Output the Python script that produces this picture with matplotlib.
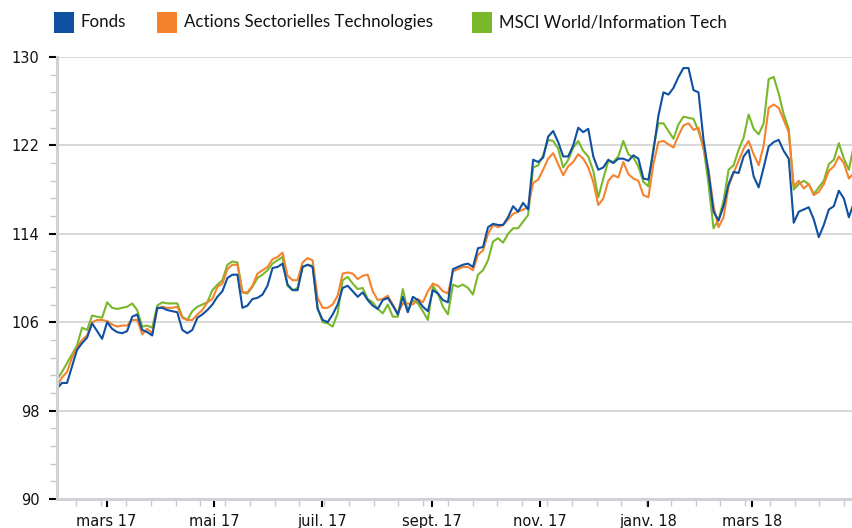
import matplotlib
matplotlib.use("Agg")
import matplotlib.pyplot as plt
import matplotlib.dates as mdates
from matplotlib.patches import Rectangle
from matplotlib.ticker import FixedLocator
import numpy as np
import pandas as pd

# --- data (index base 100) ---
fonds = [100.0, 100.5, 100.5, 102.0, 103.5, 104.1, 104.6, 105.9, 105.2, 104.5,
         106.0, 105.4, 105.1, 105.0, 105.2, 106.5, 106.7, 105.3, 105.1, 104.8,
         107.3, 107.3, 107.1, 107.0, 106.9, 105.3, 105.0, 105.3, 106.4, 106.7,
         107.1, 107.6, 108.3, 108.8, 110.0, 110.3, 110.3, 107.3, 107.5, 108.1,
         108.2, 108.5, 109.3, 110.9, 111.0, 111.3, 109.4, 108.9, 108.9, 111.0,
         111.2, 111.0, 107.2, 106.2, 106.0, 106.7, 107.6, 109.1, 109.3, 108.8,
         108.3, 108.7, 108.0, 107.5, 107.2, 108.0, 108.2, 107.5, 106.7, 108.3,
         106.9, 108.3, 108.0, 107.4, 107.0, 108.9, 108.6, 108.0, 107.8, 110.8,
         111.0, 111.2, 111.3, 111.0, 112.7, 112.8, 114.6, 114.9, 114.8, 114.8,
         115.5, 116.5, 116.0, 116.8, 116.2, 120.7, 120.5, 120.9, 122.8, 123.3,
         122.3, 121.0, 121.0, 122.0, 123.6, 123.2, 123.5, 121.0, 119.8, 120.0,
         120.7, 120.4, 120.8, 120.8, 120.6, 121.1, 120.8, 119.0, 118.9, 121.5,
         124.7, 126.8, 126.6, 127.2, 128.2, 129.0, 129.0, 127.0, 126.8, 122.5,
         119.5, 116.0, 115.2, 116.5, 118.5, 119.6, 119.5, 121.0, 121.6, 119.2,
         118.2, 120.0, 121.9, 122.3, 122.5, 121.5, 120.8, 115.0, 116.0, 116.2,
         116.4, 115.3, 113.7, 114.8, 116.2, 116.5, 117.9, 117.2, 115.5, 116.8]

actions = [100.2, 101.0, 101.5, 102.8, 103.7, 104.4, 104.8, 106.0, 106.2, 106.2,
           106.1, 105.8, 105.6, 105.7, 105.7, 106.2, 106.2, 104.9, 105.4, 105.0,
           107.2, 107.4, 107.3, 107.3, 107.4, 106.4, 106.2, 106.2, 106.7, 107.1,
           107.8, 108.1, 109.2, 109.5, 110.8, 111.2, 111.2, 108.7, 108.7, 109.3,
           110.4, 110.7, 111.0, 111.7, 111.9, 112.3, 110.2, 109.8, 109.8, 111.4,
           111.8, 111.6, 108.2, 107.3, 107.3, 107.6, 108.4, 110.4, 110.5, 110.4,
           109.9, 110.2, 110.3, 108.8, 108.0, 108.1, 108.4, 107.6, 106.8, 107.7,
           107.7, 107.6, 108.1, 107.8, 108.8, 109.5, 109.3, 108.8, 108.6, 110.6,
           110.8, 111.0, 111.0, 110.7, 112.1, 112.5, 114.0, 114.8, 114.6, 114.8,
           115.3, 115.8, 116.0, 116.2, 116.4, 118.6, 118.9, 119.8, 120.8, 121.3,
           120.3, 119.3, 120.1, 120.5, 121.2, 120.8, 120.0, 118.7, 116.6, 117.2,
           118.8, 119.3, 119.1, 120.5, 119.4, 119.0, 118.8, 117.5, 117.3, 120.3,
           122.3, 122.4, 122.1, 121.8, 122.9, 123.8, 124.0, 123.4, 123.6, 121.7,
           119.8, 116.5, 114.6, 115.5, 118.3, 119.5, 120.6, 121.7, 122.4, 121.2,
           120.2, 122.0, 125.4, 125.7, 125.4, 124.3, 123.2, 118.3, 118.8, 118.1,
           118.5, 117.5, 117.8, 118.5, 119.7, 120.1, 121.0, 120.4, 119.0, 119.5]

msci = [100.8, 101.5, 102.3, 103.1, 103.9, 105.5, 105.3, 106.6, 106.5, 106.4,
        107.8, 107.3, 107.2, 107.3, 107.4, 107.7, 107.1, 105.6, 105.7, 105.5,
        107.5, 107.8, 107.7, 107.7, 107.7, 106.5, 106.2, 107.0, 107.4, 107.6,
        107.8, 108.9, 109.4, 109.8, 111.2, 111.5, 111.4, 108.7, 108.6, 109.2,
        110.0, 110.3, 110.7, 111.3, 111.6, 111.9, 109.3, 108.9, 109.1, 111.0,
        111.2, 111.1, 107.3, 106.0, 105.9, 105.6, 106.8, 109.8, 110.1, 109.5,
        109.0, 109.1, 108.1, 107.8, 107.2, 106.8, 107.6, 106.5, 106.5, 109.0,
        107.0, 108.0, 107.7, 107.0, 106.2, 109.3, 108.6, 107.4, 106.7, 109.4,
        109.2, 109.4, 109.1, 108.5, 110.3, 110.7, 111.6, 113.3, 113.6, 113.2,
        114.0, 114.5, 114.5, 115.1, 115.7, 120.0, 120.2, 121.1, 122.5, 122.4,
        121.7, 120.0, 120.7, 121.8, 122.4, 121.5, 121.0, 119.7, 117.3, 119.0,
        120.6, 120.5, 121.0, 122.4, 121.2, 120.9, 120.1, 118.7, 118.3, 121.8,
        124.0, 124.0, 123.3, 122.6, 123.9, 124.6, 124.5, 124.4, 123.3, 121.8,
        118.5, 114.5, 115.3, 117.0, 119.8, 120.2, 121.6, 122.7, 124.8, 123.5,
        123.0, 124.0, 128.0, 128.2, 126.7, 124.8, 123.5, 118.0, 118.5, 118.8,
        118.5, 117.6, 118.2, 118.8, 120.3, 120.7, 122.2, 120.8, 119.8, 122.0]

series_names = ["Fonds", "Actions Sectorielles Technologies", "MSCI World/Information Tech"]
y_ticks = [90, 98, 106, 114, 122, 130]
tick_dates = ["2017-03-01", "2017-05-01", "2017-07-01", "2017-09-01",
              "2017-11-01", "2018-01-01", "2018-03-01"]
tick_labels = ["mars 17", "mai 17", "juil. 17", "sept. 17", "nov. 17", "janv. 18", "mars 18"]

dates = pd.date_range("2017-02-01", periods=len(fonds), freq="68h")

blue = "#0f50a0"
orange = "#f5822f"
green = "#79b829"

plt.rcParams["font.family"] = "DejaVu Sans"

W, H = 853, 528
fig = plt.figure(figsize=(W / 100, H / 100), dpi=100)
ax = fig.add_axes([57 / W, 1 - 499 / H, 1 - 57 / W, 442 / H])

ax.plot(dates, msci, color=green, lw=1.5)
ax.plot(dates, actions, color=orange, lw=1.5)
ax.plot(dates, fonds, color=blue, lw=1.5)

ax.set_xlim(pd.Timestamp("2017-02-01"), pd.Timestamp("2018-04-27"))
ax.set_ylim(90, 130)
ax.set_yticks(y_ticks)
ax.yaxis.set_minor_locator(FixedLocator(np.arange(90, 130.01, 1.6)))
ax.set_xticks(pd.to_datetime(tick_dates))
ax.set_xticklabels(tick_labels)
ax.xaxis.set_minor_locator(FixedLocator(
    mdates.date2num(pd.date_range("2017-02-12", "2018-04-30", freq="14D"))))

# grid and spines
ax.grid(axis="y", which="major", color="#d6d6d6", lw=1.3)
ax.set_axisbelow(True)
for s in ["top", "right"]:
    ax.spines[s].set_visible(False)
for s in ["left", "bottom"]:
    ax.spines[s].set_color("#cfd3d7")
    ax.spines[s].set_linewidth(2.2)

ax.tick_params(which="major", length=5.5, width=1.5, color="black",
               labelsize=10.5, labelcolor="#111111")
ax.tick_params(axis="y", which="major", pad=7)
ax.tick_params(axis="x", which="major", pad=5)
ax.tick_params(which="minor", length=5, width=1, color="#c8c8c8")

# legend drawn on top, as in the original
legend_x = [54, 157, 472]
for name, c, x in zip(series_names, [blue, orange, green], legend_x):
    fig.add_artist(Rectangle((x / W, 1 - 33 / H), 20 / W, 21 / H,
                             transform=fig.transFigure, facecolor=c, edgecolor="none"))
    fig.text((x + 27) / W, 1 - 22 / H, name, ha="left", va="center",
             fontsize=12.2, family=["Lato", "DejaVu Sans"], color="#111111")

fig.savefig("out.png", dpi=100)
